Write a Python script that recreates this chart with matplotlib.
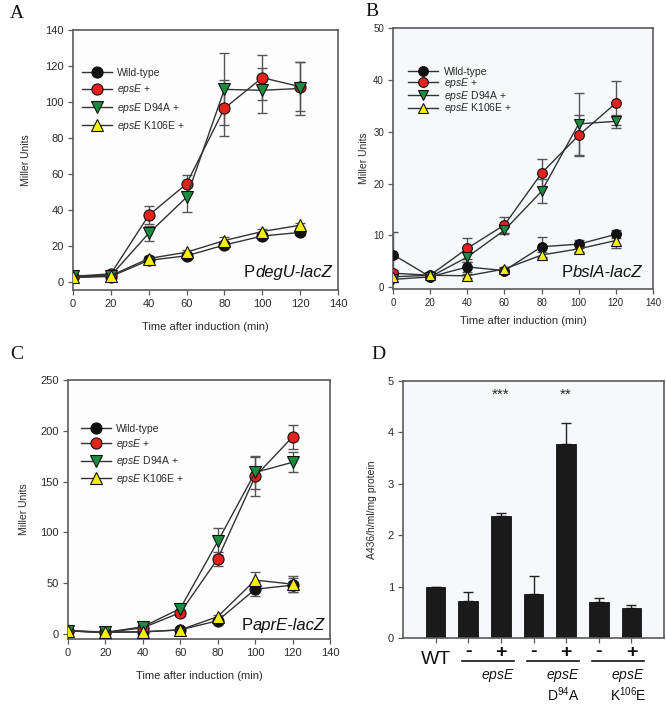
import matplotlib
matplotlib.use("Agg")
import matplotlib.pyplot as plt
import numpy as np
from matplotlib.transforms import blended_transform_factory

plt.rcParams['font.family'] = ['Liberation Sans', 'DejaVu Sans']
plt.rcParams['mathtext.fontset'] = 'custom'
plt.rcParams['mathtext.rm'] = 'Liberation Sans'
plt.rcParams['mathtext.it'] = 'Liberation Sans:italic'

# ---------------- data ----------------
time = [0, 20, 40, 60, 80, 100, 120]
series_labels = ['Wild-type', r'$\it{epsE}$ +', r'$\it{epsE}$ D94A +', r'$\it{epsE}$ K106E +']

# Panel A  PdegU-lacZ
A_wt = [2.5, 3.0, 12.0, 14.5, 20.5, 25.5, 27.5]
A_wt_err = [1.0, 0.8, 1.5, 1.5, 1.5, 1.5, 1.5]
A_epsE = [3.0, 4.5, 37.0, 54.5, 96.5, 113.5, 108.5]
A_epsE_err = [1.0, 1.0, 5.0, 5.0, 15.5, 12.5, 13.5]
A_d94a = [3.5, 3.5, 27.0, 47.0, 107.0, 106.5, 107.5]
A_d94a_err = [1.0, 1.0, 4.0, 8.0, 20.0, 12.5, 14.5]
A_k106e = [2.5, 3.5, 13.0, 16.5, 23.0, 28.0, 31.5]
A_k106e_err = [1.0, 0.8, 1.5, 1.5, 2.0, 1.5, 1.5]

# Panel B  PbslA-lacZ
B_wt = [6.3, 2.0, 3.9, 3.2, 7.8, 8.3, 10.2]
B_wt_err = [4.3, 0.3, 1.0, 0.5, 1.9, 0.8, 0.8]
B_epsE = [2.7, 2.3, 7.5, 12.0, 22.0, 29.3, 35.5]
B_epsE_err = [0.5, 0.3, 2.0, 1.5, 2.7, 3.9, 4.3]
B_d94a = [1.5, 2.0, 5.8, 11.0, 18.5, 31.5, 32.0]
B_d94a_err = [0.5, 0.3, 1.0, 0.7, 2.3, 6.0, 1.3]
B_k106e = [2.0, 2.3, 2.2, 3.5, 6.2, 7.4, 9.0]
B_k106e_err = [0.4, 0.3, 0.4, 0.4, 0.6, 0.6, 1.5]

# Panel C  PaprE-lacZ
C_wt = [3.0, 2.0, 2.0, 4.0, 13.0, 44.0, 48.0]
C_wt_err = [1.0, 1.0, 1.0, 1.0, 2.0, 7.0, 7.0]
C_epsE = [3.0, 1.5, 6.0, 21.0, 74.0, 155.0, 194.0]
C_epsE_err = [1.0, 1.0, 1.5, 3.0, 7.0, 19.0, 12.0]
C_d94a = [3.0, 1.5, 7.0, 25.0, 91.0, 159.0, 169.0]
C_d94a_err = [1.0, 1.0, 1.5, 4.0, 13.0, 16.0, 10.0]
C_k106e = [3.0, 1.5, 2.0, 4.0, 17.0, 53.0, 49.0]
C_k106e_err = [1.0, 1.0, 1.0, 1.0, 2.0, 8.0, 8.0]

# Panel D  bars
D_values = [1.0, 0.72, 2.37, 0.85, 3.77, 0.70, 0.58]
D_err = [0.0, 0.18, 0.07, 0.35, 0.41, 0.07, 0.06]
D_signs = ['', '-', '+', '-', '+', '-', '+']
D_group_top = [r'$\it{epsE}$', r'$\it{epsE}$', r'$\it{epsE}$']
D_group_bottom = ['', r'D$^{94}$A', r'K$^{106}$E']
D_stars = {3: '***', 5: '**'}

# ---------------- style ----------------
W, H = 666, 705
fig = plt.figure(figsize=(W / 100, H / 100), dpi=100)
fig.patch.set_facecolor('white')

def px(l, t, r, b):
    return [l / W, 1 - b / H, (r - l) / W, (b - t) / H]

fy = lambda y: 1 - y / H

spine_c = '#5a5a5a'
text_c = '#2a2a2a'
colors = ['#111111', '#e3221c', '#1c8c40', '#f5f000']
markers = ['o', 'o', 'v', '^']


def style_axes(ax, face):
    ax.set_facecolor(face)
    for s in ax.spines.values():
        s.set_color(spine_c)
        s.set_linewidth(1.2)
    ax.tick_params(direction='out', length=3.5, width=0.9, color=spine_c,
                   labelsize=8, labelcolor=text_c, pad=3)


def line_panel(ax, ys, errs, ylim, yticks, ms, legend_anchor, labelspacing, promoter,
               prom_pos, ylabelpad):
    for y, e in zip(ys, errs):
        ax.errorbar(time, y, yerr=e, fmt='none', ecolor='#555555', elinewidth=1.0,
                    capsize=3.5, capthick=1.0, zorder=2)
    handles = []
    for i, y in enumerate(ys):
        h, = ax.plot(time, y, color='#333333', lw=1.0, marker=markers[i], ms=ms,
                     mfc=colors[i], mec='#111111', mew=0.8, zorder=3,
                     label=series_labels[i])
        handles.append(h)
    ax.set_xlim(0, 140)
    ax.set_xticks(range(0, 141, 20))
    ax.set_ylim(*ylim)
    ax.set_yticks(yticks)
    ax.set_ylabel('Miller Units', fontsize=7.5, color=text_c, labelpad=ylabelpad)
    leg = ax.legend(handles=handles, loc='upper left', bbox_to_anchor=legend_anchor,
                    frameon=False, fontsize=7.5, handlelength=2.9, handletextpad=0.5,
                    labelspacing=labelspacing, borderpad=0.2, borderaxespad=0)
    for t in leg.get_texts():
        t.set_color(text_c)
    ti = ax.text(prom_pos[0], prom_pos[1], promoter, transform=ax.transAxes, ha='right',
                 va='baseline', fontsize=12, style='italic', color='#111111')
    ax.annotate('P', xy=(0, 0), xycoords=ti, ha='right', va='bottom', fontsize=12,
                color='#111111')


# Panel A
axA = fig.add_axes(px(73, 30, 338, 290))
style_axes(axA, '#fdfdfd')
line_panel(axA, [A_wt, A_epsE, A_d94a, A_k106e], [A_wt_err, A_epsE_err, A_d94a_err, A_k106e_err],
           (-4.5, 140), range(0, 141, 20), 8, (0.025, 0.862), 0.42, 'degU-lacZ', (0.977, 0.05), 10)
axA.set_xlabel('Time after induction (min)', fontsize=8, color=text_c, labelpad=9)

# Panel B
axB = fig.add_axes(px(393, 28, 653, 289))
style_axes(axB, '#f6f8fc')
line_panel(axB, [B_wt, B_epsE, B_d94a, B_k106e], [B_wt_err, B_epsE_err, B_d94a_err, B_k106e_err],
           (-0.35, 50), range(0, 51, 10), 7, (0.05, 0.86), -0.1, 'bslA-lacZ', (0.958, 0.046), 3)
axB.set_xlabel('Time after induction (min)', fontsize=8, color=text_c, labelpad=6)
axB.tick_params(labelsize=7)

# Panel C
axC = fig.add_axes(px(68, 380, 330, 639))
style_axes(axC, '#fdfdfd')
line_panel(axC, [C_wt, C_epsE, C_d94a, C_k106e], [C_wt_err, C_epsE_err, C_d94a_err, C_k106e_err],
           (-5, 250), range(0, 251, 50), 8, (0.04, 0.84), 0.32, 'aprE-lacZ', (0.98, 0.035), 8)
axC.set_xlabel('Time after induction (min)', fontsize=8, color=text_c, labelpad=9)

# Panel D
axD = fig.add_axes(px(403, 381, 664, 638))
style_axes(axD, '#f6f8fc')
pos = np.arange(1, len(D_values) + 1)
axD.bar(pos, D_values, width=0.6, color='#1a1a1a', edgecolor='#111111', lw=0.6, zorder=2)
err_low = np.zeros(len(D_err))
axD.errorbar(pos, D_values, yerr=[err_low, D_err], fmt='none', ecolor='#222222',
             elinewidth=1.0, capsize=3.5, capthick=1.0, zorder=1)
axD.set_xlim(0, 8)
axD.set_ylim(0, 5)
axD.set_yticks(range(0, 6))
axD.set_xticks(pos)
axD.set_xticklabels([])
axD.set_ylabel('A436/h/ml/mg protein', fontsize=7.5, color=text_c, labelpad=8)
for p, s in D_stars.items():
    axD.text(p, 4.73, s, ha='center', va='center', fontsize=11, color=text_c)

tr = blended_transform_factory(axD.transData, fig.transFigure)
axD.text(1, fy(660), 'WT', transform=tr, ha='center', va='center', fontsize=14,
         color='#111111')
for p, s in zip(pos, D_signs):
    if s:
        axD.text(p, fy(652), s, transform=tr, ha='center', va='center', fontsize=14,
                 color='#111111', fontweight='bold')
for g, start in enumerate([2, 4, 6]):
    axD.plot([start - 0.2, start + 1.4], [fy(661), fy(661)], transform=tr, color='#111111',
             lw=1.2, clip_on=False)
    axD.text(start + 0.9, fy(675), D_group_top[g], transform=tr, ha='center', va='center',
             fontsize=10, color='#111111')
    if D_group_bottom[g]:
        axD.text(start + 0.9, fy(695), D_group_bottom[g], transform=tr, ha='center',
                 va='center', fontsize=10, color='#111111')

# panel letters
for letter, (x, y) in zip('ABCD', [(10, 14), (365, 12), (10, 355), (371, 355)]):
    fig.text(x / W, fy(y), letter, ha='left', va='center', fontsize=14,
             family=['Liberation Serif', 'DejaVu Serif'], color='#111111')

fig.savefig('out.png', dpi=100)
